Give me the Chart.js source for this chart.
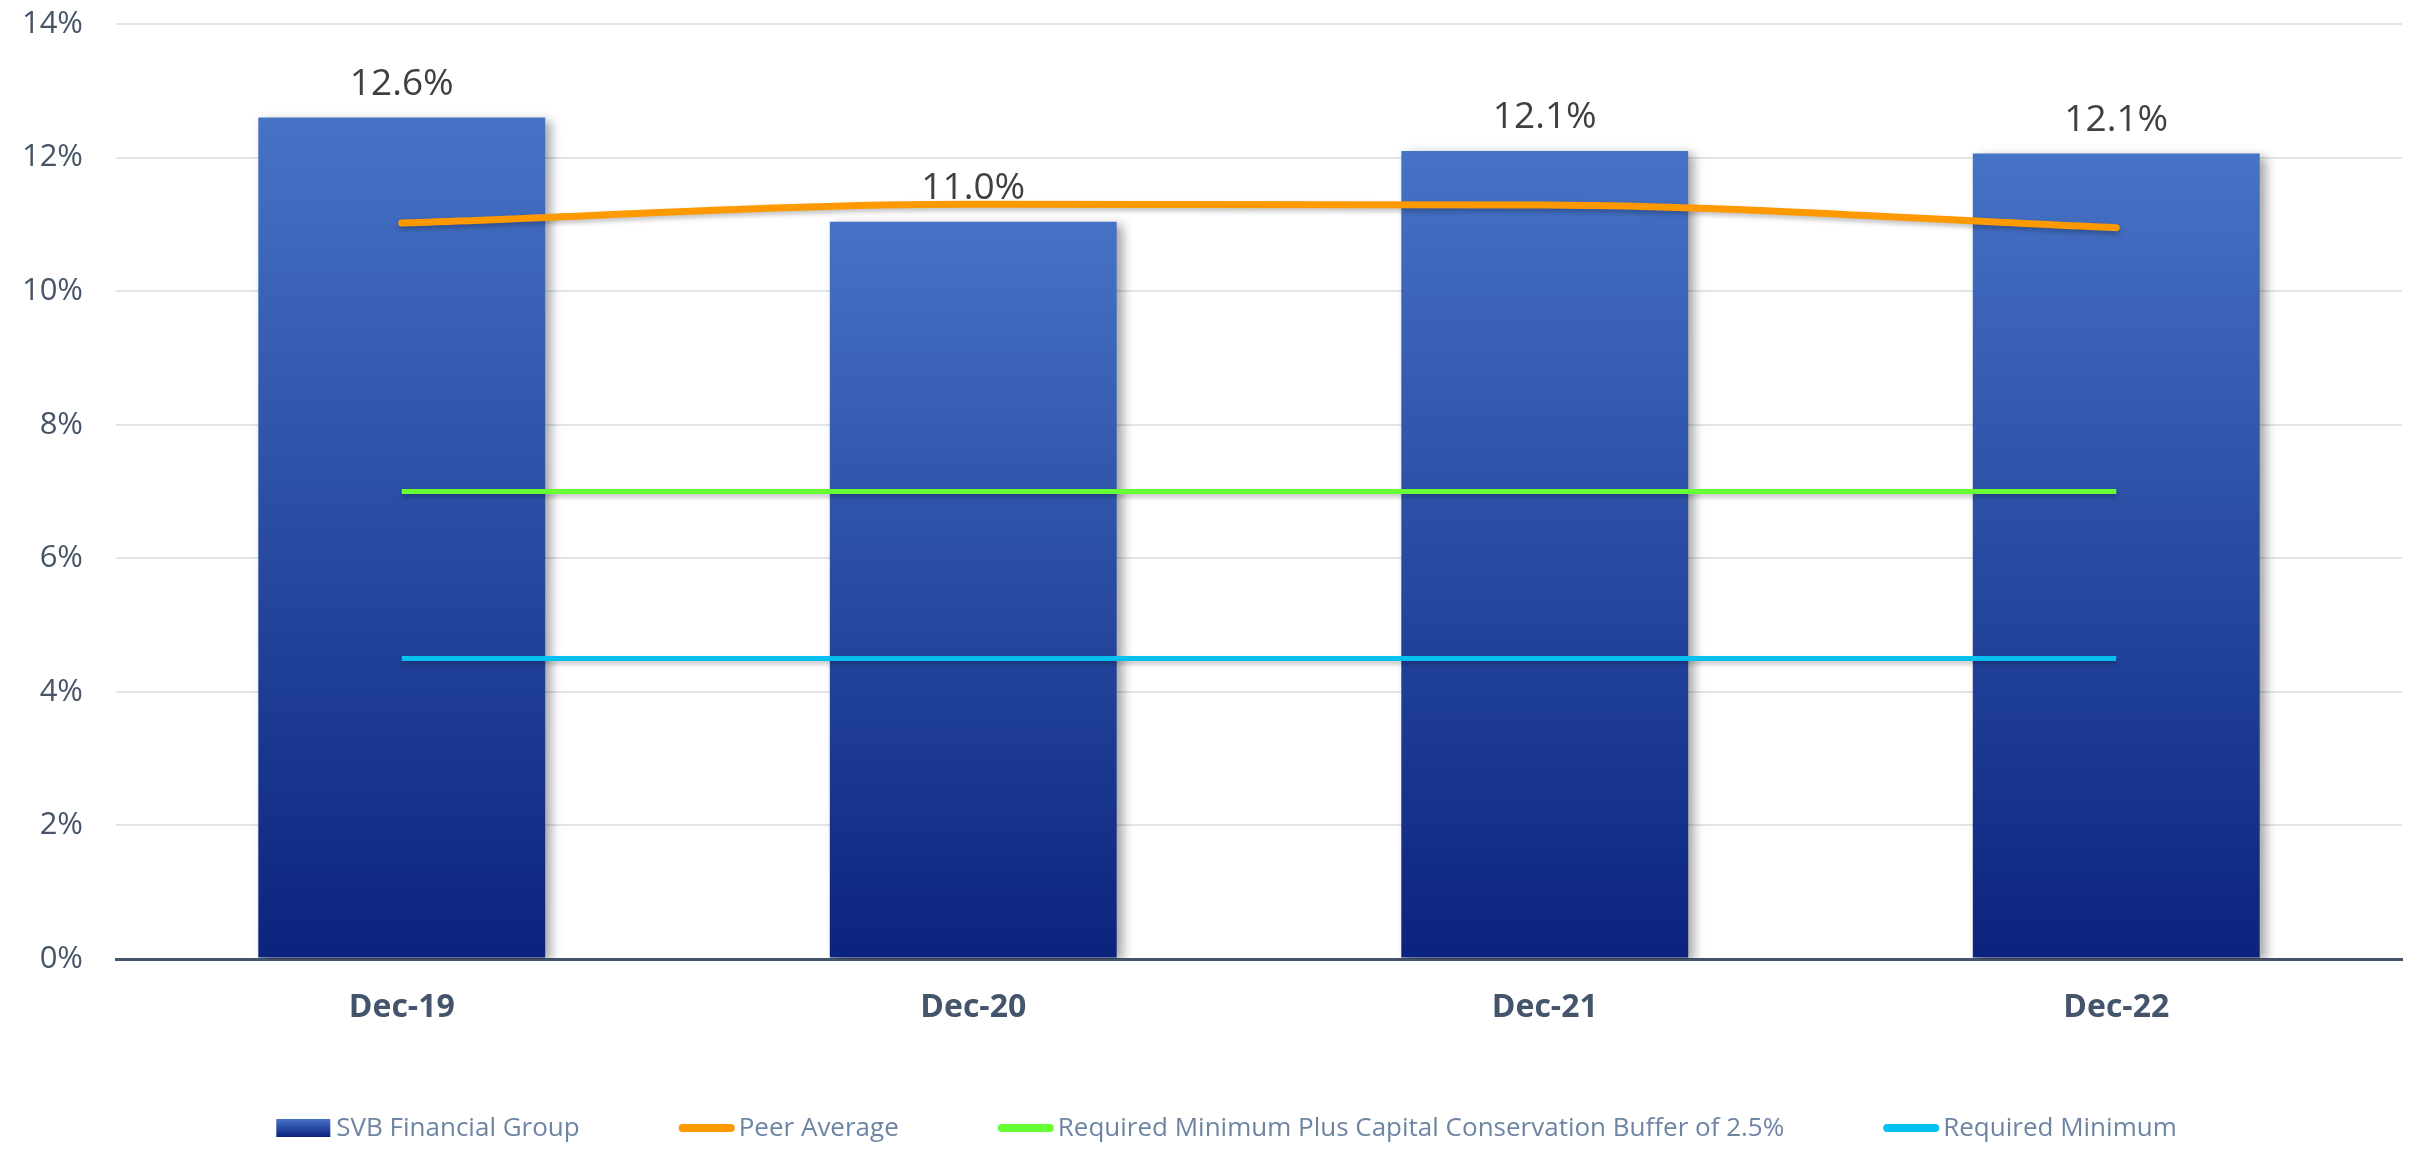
<!DOCTYPE html>
<html>
<head>
<meta charset="utf-8">
<script src="https://cdn.jsdelivr.net/npm/chart.js@4"></script>
<style>
    html, body { margin: 0; padding: 0; background: #ffffff; }
    #wrap { width: 2433px; height: 1154px; position: relative; }
</style>
</head>
<body>
<div id="wrap"><canvas id="capitalChart" width="2433" height="1154"></canvas></div>
<script>
// 차트 데이터
const categories = ['Dec-19', 'Dec-20', 'Dec-21', 'Dec-22'];
const svbValues = [12.6, 11.04, 12.1, 12.06];
const peerAverage = [11.02, 11.3, 11.29, 10.95];
const bufferMinimum = [7.0, 7.0, 7.0, 7.0];
const requiredMinimum = [4.5, 4.5, 4.5, 4.5];
const yTickValues = [0, 2, 4, 6, 8, 10, 12, 14];
const seriesNames = [
    'SVB Financial Group',
    'Peer Average',
    'Required Minimum Plus Capital Conservation Buffer of 2.5%',
    'Required Minimum'
];

const FONT = '"Open Sans", "DejaVu Sans", sans-serif';
const BAR_TOP = '#4673C6';
const BAR_BOTTOM = '#0B237D';

/**
 * 막대마다 위에서 아래로 그라데이션을 만듭니다.
 */
function barGradient(context) {
    const chart = context.chart;
    if (!chart.chartArea || context.type !== 'data') return BAR_TOP;
    const y = chart.scales.y;
    const top = y.getPixelForValue(context.raw);
    const bottom = y.getPixelForValue(0);
    const g = chart.ctx.createLinearGradient(0, top, 0, bottom);
    g.addColorStop(0, BAR_TOP);
    g.addColorStop(1, BAR_BOTTOM);
    return g;
}

// 막대와 선에 그림자
const shadowPlugin = {
    id: 'shadow',
    beforeDatasetDraw(chart, args) {
        const ctx = chart.ctx;
        ctx.save();
        if (args.index === 0) {
            ctx.shadowColor = 'rgba(0, 0, 0, 0.35)';
            ctx.shadowBlur = 10;
            ctx.shadowOffsetX = 6;
            ctx.shadowOffsetY = 3;
        } else {
            ctx.shadowColor = 'rgba(0, 0, 0, 0.25)';
            ctx.shadowBlur = 5;
            ctx.shadowOffsetX = 0;
            ctx.shadowOffsetY = 3;
        }
    },
    afterDatasetDraw(chart) {
        chart.ctx.restore();
    }
};

// 막대 위 값 라벨
const barLabelPlugin = {
    id: 'barLabels',
    afterDatasetsDraw(chart) {
        const ctx = chart.ctx;
        const meta = chart.getDatasetMeta(0);
        ctx.save();
        ctx.font = '37px ' + FONT;
        ctx.fillStyle = '#404040';
        ctx.textAlign = 'center';
        ctx.textBaseline = 'middle';
        meta.data.forEach((bar, i) => {
            const v = chart.data.datasets[0].data[i];
            ctx.fillText(v.toFixed(1) + '%', bar.x, bar.y - 33);
        });
        ctx.restore();
    }
};

// 범례 (아래쪽, 가운데 정렬)
const legendPlugin = {
    id: 'customLegend',
    afterDraw(chart) {
        const ctx = chart.ctx;
        const ds = chart.data.datasets;
        const swatchW = 56, textGap = 4, itemGap = 99, legendY = 1128;
        ctx.save();
        ctx.font = '26px ' + FONT;
        ctx.textBaseline = 'middle';
        const widths = ds.map(d => swatchW + textGap + ctx.measureText(d.label).width);
        const total = widths.reduce((a, b) => a + b, 0) + itemGap * (ds.length - 1);
        let x = (chart.width - total) / 2 + 10;
        ds.forEach((d, i) => {
            if (d.type === 'bar') {
                const g = ctx.createLinearGradient(0, legendY - 9, 0, legendY + 9);
                g.addColorStop(0, BAR_TOP);
                g.addColorStop(1, BAR_BOTTOM);
                ctx.fillStyle = g;
                ctx.fillRect(x, legendY - 9, swatchW - 2, 18);
            } else {
                ctx.strokeStyle = d.borderColor;
                ctx.lineWidth = 8;
                ctx.lineCap = 'round';
                ctx.beginPath();
                ctx.moveTo(x + 4, legendY);
                ctx.lineTo(x + swatchW - 4, legendY);
                ctx.stroke();
            }
            ctx.fillStyle = '#6E84A3';
            ctx.textAlign = 'left';
            ctx.fillText(d.label, x + swatchW + textGap, legendY + 1);
            x += widths[i] + itemGap;
        });
        ctx.restore();
    }
};

Chart.defaults.font.family = FONT;

new Chart(document.getElementById('capitalChart'), {
    type: 'bar',
    data: {
        labels: categories,
        datasets: [
            {
                type: 'bar',
                label: seriesNames[0],
                data: svbValues,
                backgroundColor: barGradient,
                borderWidth: 0,
                categoryPercentage: 1.0,
                barPercentage: 0.502,
                order: 5
            },
            {
                type: 'line',
                label: seriesNames[1],
                data: peerAverage,
                borderColor: '#FF9900',
                borderWidth: 7,
                borderCapStyle: 'round',
                cubicInterpolationMode: 'monotone',
                pointRadius: 0,
                order: 1
            },
            {
                type: 'line',
                label: seriesNames[2],
                data: bufferMinimum,
                borderColor: '#66FF33',
                borderWidth: 5,
                pointRadius: 0,
                order: 2
            },
            {
                type: 'line',
                label: seriesNames[3],
                data: requiredMinimum,
                borderColor: '#00C0F0',
                borderWidth: 5,
                pointRadius: 0,
                order: 3
            }
        ]
    },
    options: {
        responsive: false,
        animation: false,
        devicePixelRatio: 1,
        layout: {
            padding: { left: 0, right: 31, top: 24, bottom: 95 }
        },
        scales: {
            x: {
                grid: { display: false, drawTicks: false },
                border: { display: true, color: '#44546A', width: 3 },
                ticks: {
                    color: '#44546A',
                    font: { size: 32, weight: 'bold' },
                    padding: 30
                },
                afterFit(scale) {
                    scale.height = 100;
                    scale.paddingLeft = 0;
                    scale.paddingRight = 0;
                }
            },
            y: {
                min: 0,
                max: 14,
                afterBuildTicks(scale) {
                    scale.ticks = yTickValues.map(v => ({ value: v }));
                },
                grid: {
                    drawTicks: false,
                    color: ctx => ctx.tick && ctx.tick.value === 0 ? '#44546A' : '#E1E5EA',
                    lineWidth: ctx => ctx.tick && ctx.tick.value === 0 ? 3 : 2
                },
                border: { display: false },
                ticks: {
                    color: '#475569',
                    font: { size: 31 },
                    padding: 33,
                    callback: v => v + '%'
                },
                afterFit(scale) {
                    scale.width = 116;
                    scale.paddingTop = 0;
                    scale.paddingBottom = 0;
                }
            }
        },
        plugins: {
            legend: { display: false },
            tooltip: { enabled: false }
        }
    },
    plugins: [shadowPlugin, barLabelPlugin, legendPlugin]
});
</script>
</body>
</html>
